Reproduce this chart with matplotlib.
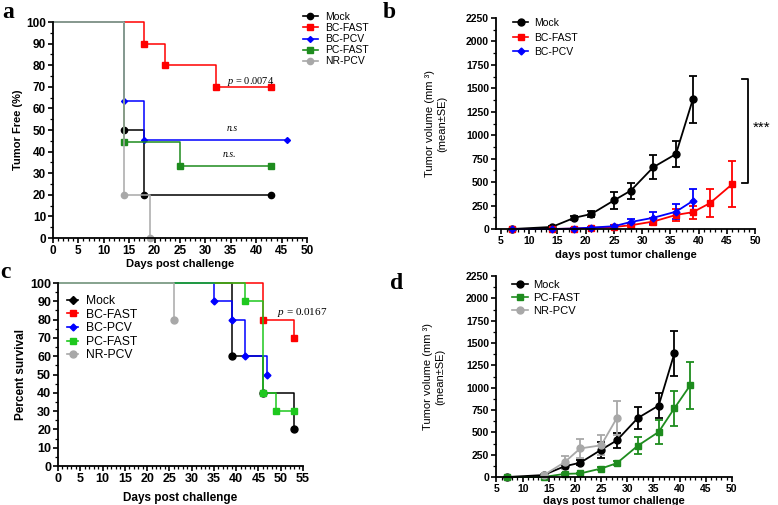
import matplotlib.pyplot as plt
from matplotlib.lines import Line2D
from matplotlib.ticker import MultipleLocator

plt.rcParams['font.family'] = ['Liberation Sans', 'DejaVu Sans']
plt.rcParams['mathtext.fontset'] = 'custom'
plt.rcParams['mathtext.rm'] = 'Liberation Serif'
plt.rcParams['mathtext.it'] = 'Liberation Serif:italic'

RED = '#ff0000'
BLUE = '#0000ff'
DKGREEN = '#1e8c1e'
GREEN = '#1ec81e'
GRAY = '#a8a8a8'
BLACK = '#000000'

# a: tumor free (%)
a_mock_t, a_mock_s = [0, 14, 18, 43], [100, 50, 20, 20]
a_bcfast_t, a_bcfast_s = [0, 18, 22, 32, 43], [100, 90, 80, 70, 70]
a_bcpcv_t, a_bcpcv_s = [0, 14, 18, 46], [100, 63.6, 45.5, 45.5]
a_pcfast_t, a_pcfast_s = [0, 14, 25, 43], [100, 44.4, 33.3, 33.3]
a_nrpcv_t, a_nrpcv_s = [0, 14, 19], [100, 20, 0]

# c: percent survival
c_mock_t, c_mock_s = [0, 39, 46, 53], [100, 60, 40, 20]
c_bcfast_t, c_bcfast_s = [0, 46, 53], [100, 80, 70]
c_bcpcv_t, c_bcpcv_s = [0, 35, 39, 42, 47], [100, 90, 80, 60, 50]
c_pcfast_t, c_pcfast_s = [0, 42, 46, 49, 53], [100, 90, 40, 30, 30]
c_nrpcv_t, c_nrpcv_s = [0, 26], [100, 80]

# b / d: tumor volume
mock_day = [7, 14, 18, 21, 25, 28, 32, 36, 39]
mock_vol = [0, 22, 120, 160, 305, 410, 660, 800, 1385]
mock_se = [0, 8, 20, 30, 90, 85, 125, 140, 250]

bcfast_day = [7, 14, 18, 21, 25, 28, 32, 36, 39, 42, 46]
bcfast_vol = [0, 0, 5, 12, 22, 40, 80, 150, 180, 275, 480]
bcfast_se = [0, 0, 5, 8, 12, 20, 40, 60, 70, 150, 245]

bcpcv_day = [7, 14, 18, 21, 25, 28, 32, 36, 39]
bcpcv_vol = [0, 0, 5, 15, 30, 75, 120, 185, 300]
bcpcv_se = [0, 0, 5, 8, 15, 30, 62, 80, 125]

pcfast_day = [7, 14, 18, 21, 25, 28, 32, 36, 39, 42]
pcfast_vol = [0, 0, 35, 40, 95, 155, 350, 505, 770, 1025]
pcfast_se = [0, 0, 10, 10, 15, 20, 95, 130, 195, 260]

nrpcv_day = [14, 18, 21, 25, 28]
nrpcv_vol = [20, 165, 320, 355, 660]
nrpcv_se = [10, 75, 110, 110, 190]


def style(ax, fs):
    for s in ['top', 'right']:
        ax.spines[s].set_visible(False)
    for s in ['left', 'bottom']:
        ax.spines[s].set_linewidth(1.3)
    ax.tick_params(which='major', length=3.5, width=1.2, labelsize=fs, pad=1.5)
    ax.tick_params(which='minor', length=2, width=0.9)
    for l in ax.get_xticklabels() + ax.get_yticklabels():
        l.set_fontweight('bold')


def km(ax, t, s, color, marker, ms):
    ax.step(t, s, where='post', color=color, lw=1.1, clip_on=False)
    ax.plot(t[1:], s[1:], ls='none', marker=marker, ms=ms, color=color, clip_on=False)


def handle(color, marker, ms, label):
    return Line2D([], [], color=color, marker=marker, ms=ms, lw=1.2, label=label)


def vol(ax, x, y, e, color, marker, ms):
    ax.errorbar(x, y, yerr=e, color=color, marker=marker, ms=ms, lw=1.3,
                elinewidth=1.3, capsize=3, capthick=1.3, clip_on=False)


fig = plt.figure(figsize=(7.78, 5.05), dpi=100)

# ---------- a
ax = fig.add_axes([0.0681, 0.5287, 0.3265, 0.4277])
km(ax, a_mock_t, a_mock_s, BLACK, 'o', 4.5)
km(ax, a_bcfast_t, a_bcfast_s, RED, 's', 4.5)
km(ax, a_bcpcv_t, a_bcpcv_s, BLUE, 'D', 3)
km(ax, a_pcfast_t, a_pcfast_s, DKGREEN, 's', 4.5)
km(ax, a_nrpcv_t, a_nrpcv_s, GRAY, 'o', 4.5)
ax.set_xlim(0, 50)
ax.set_ylim(0, 100)
ax.xaxis.set_major_locator(MultipleLocator(5))
ax.xaxis.set_minor_locator(MultipleLocator(1))
ax.yaxis.set_major_locator(MultipleLocator(10))
ax.yaxis.set_minor_locator(MultipleLocator(5))
style(ax, 8.5)
ax.set_xlabel('Days post challenge', fontsize=8, fontweight='bold')
ax.xaxis.set_label_coords(0.5, -0.095)
ax.set_ylabel('Tumor Free (%)', fontsize=8, fontweight='bold')
ax.yaxis.set_label_coords(-0.118, 0.5)
ax.text(34.3, 71.5, '$p$ = 0.0074', fontsize=7.5, family='Liberation Serif')
ax.text(35.2, 49.5, 'n.s', fontsize=7, family='Liberation Serif', style='italic', ha='center')
ax.text(34.8, 37.5, 'n.s.', fontsize=7, family='Liberation Serif', style='italic', ha='center')
hs = [handle(BLACK, 'o', 4.5, 'Mock'), handle(RED, 's', 4.5, 'BC-FAST'),
      handle(BLUE, 'D', 3, 'BC-PCV'), handle(DKGREEN, 's', 4.5, 'PC-FAST'),
      handle(GRAY, 'o', 4.5, 'NR-PCV')]
ax.legend(handles=hs, loc='upper left', bbox_to_anchor=(0.984, 1.046), frameon=False,
          fontsize=7.5, handlelength=1.45, handletextpad=0.65, labelspacing=0.1,
          borderpad=0, borderaxespad=0)

# ---------- b
ax = fig.add_axes([0.6375, 0.5465, 0.3329, 0.4178])
vol(ax, mock_day, mock_vol, mock_se, BLACK, 'o', 5)
vol(ax, bcfast_day, bcfast_vol, bcfast_se, RED, 's', 5)
vol(ax, bcpcv_day, bcpcv_vol, bcpcv_se, BLUE, 'D', 3.5)
ax.set_xlim(4.1, 50)
ax.set_ylim(0, 2250)
ax.set_xticks(range(5, 51, 5))
ax.xaxis.set_minor_locator(MultipleLocator(1))
ax.yaxis.set_major_locator(MultipleLocator(250))
ax.yaxis.set_minor_locator(MultipleLocator(125))
style(ax, 7.5)
ax.set_xlabel('days post tumor challenge', fontsize=8, fontweight='bold')
ax.xaxis.set_label_coords(0.5, -0.1)
ax.set_ylabel('Tumor volume (mm \u00b3)\n(mean\u00b1SE)', fontsize=8)
ax.yaxis.set_label_coords(-0.19, 0.5)
ax.plot([47.7, 48.8, 48.8, 47.7], [1600, 1600, 490, 490], color=BLACK, lw=1.3, clip_on=False)
ax.text(49.6, 1080, '***', fontsize=11, va='center', ha='left')
hs = [handle(BLACK, 'o', 5, 'Mock'), handle(RED, 's', 5, 'BC-FAST'),
      handle(BLUE, 'D', 3.5, 'BC-PCV')]
ax.legend(handles=hs, loc='upper left', bbox_to_anchor=(0.066, 1.0), frameon=False,
          fontsize=7.5, handlelength=1.45, handletextpad=0.6, labelspacing=0.43,
          borderpad=0, borderaxespad=0)

# ---------- c
ax = fig.add_axes([0.0746, 0.0772, 0.3149, 0.3624])
km(ax, c_mock_t, c_mock_s, BLACK, 'o', 5)
km(ax, c_bcfast_t, c_bcfast_s, RED, 's', 5)
km(ax, c_bcpcv_t, c_bcpcv_s, BLUE, 'D', 3.5)
km(ax, c_pcfast_t, c_pcfast_s, GREEN, 's', 5)
km(ax, c_nrpcv_t, c_nrpcv_s, GRAY, 'o', 5)
ax.set_xlim(0, 55)
ax.set_ylim(0, 100)
ax.xaxis.set_major_locator(MultipleLocator(5))
ax.xaxis.set_minor_locator(MultipleLocator(1))
ax.yaxis.set_major_locator(MultipleLocator(10))
ax.yaxis.set_minor_locator(MultipleLocator(5))
style(ax, 9)
ax.set_xlabel('Days post challenge', fontsize=8.5, fontweight='bold')
ax.xaxis.set_label_coords(0.5, -0.14)
ax.set_ylabel('Percent survival', fontsize=8.5, fontweight='bold')
ax.yaxis.set_label_coords(-0.127, 0.5)
ax.text(49.2, 82.5, '$p$ = 0.0167', fontsize=8, family='Liberation Serif', clip_on=False)
hs = [handle(BLACK, 'D', 4, 'Mock'), handle(RED, 's', 5, 'BC-FAST'),
      handle(BLUE, 'D', 3.5, 'BC-PCV'), handle(GREEN, 's', 5, 'PC-FAST'),
      handle(GRAY, 'o', 5, 'NR-PCV')]
ax.legend(handles=hs, loc='upper left', bbox_to_anchor=(0.037, 0.934), frameon=False,
          fontsize=8.7, handlelength=0.9, handletextpad=0.65, labelspacing=0.13,
          borderpad=0, borderaxespad=0)

# ---------- d
ax = fig.add_axes([0.6375, 0.0554, 0.3033, 0.398])
vol(ax, mock_day, mock_vol, mock_se, BLACK, 'o', 5)
vol(ax, pcfast_day, pcfast_vol, pcfast_se, DKGREEN, 's', 5)
vol(ax, nrpcv_day, nrpcv_vol, nrpcv_se, GRAY, 'o', 5)
ax.set_xlim(4.9, 50)
ax.set_ylim(0, 2250)
ax.set_xticks(range(5, 51, 5))
ax.xaxis.set_minor_locator(MultipleLocator(1))
ax.yaxis.set_major_locator(MultipleLocator(250))
ax.yaxis.set_minor_locator(MultipleLocator(125))
style(ax, 7.5)
ax.set_xlabel('days post tumor challenge', fontsize=8, fontweight='bold')
ax.xaxis.set_label_coords(0.5, -0.095)
ax.set_ylabel('Tumor volume (mm \u00b3)\n(mean\u00b1SE)', fontsize=8)
ax.yaxis.set_label_coords(-0.216, 0.5)
hs = [handle(BLACK, 'o', 5, 'Mock'), handle(DKGREEN, 's', 5, 'PC-FAST'),
      handle(GRAY, 'o', 5, 'NR-PCV')]
ax.legend(handles=hs, loc='upper left', bbox_to_anchor=(0.068, 0.98), frameon=False,
          fontsize=8, handlelength=1.4, handletextpad=0.5, labelspacing=0.25,
          borderpad=0, borderaxespad=0)

# panel letters
for lbl, x, y in [('a', 2, 2), ('b', 383, 2), ('c', 0, 262), ('d', 390, 273)]:
    fig.text(x / 778, 1 - y / 505, lbl, fontsize=17, fontweight='bold',
             family='Liberation Serif', va='top', ha='left')

fig.savefig('out.png', dpi=100)
